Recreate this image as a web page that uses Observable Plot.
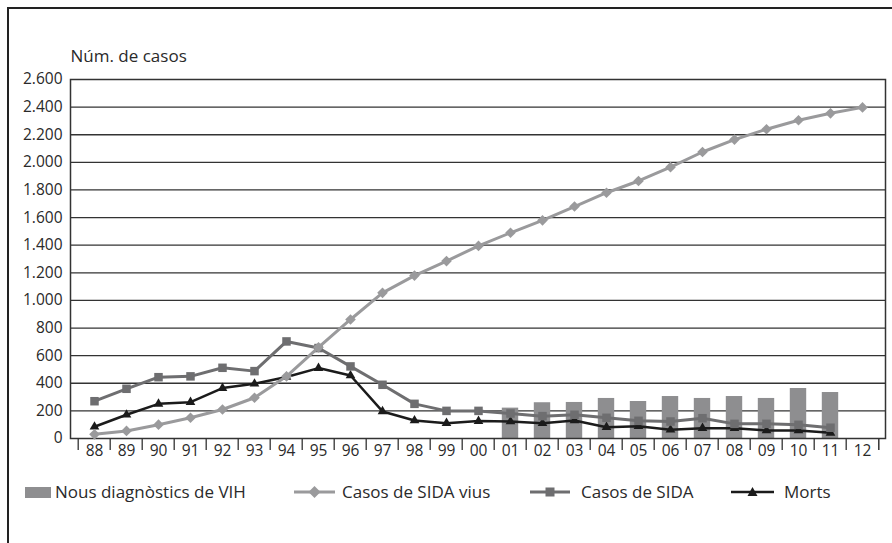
<!DOCTYPE html>
<html><head><meta charset="utf-8">
<script src="https://cdn.jsdelivr.net/npm/d3@7"></script>
<script src="https://cdn.jsdelivr.net/npm/@observablehq/plot@0.6"></script>
<style>
body{margin:0;background:#fff;font-family:"Open Sans",sans-serif;color:#2a2a2a;}
#wrap{position:relative;width:892px;height:543px;overflow:hidden;background:#fff;}
#border{position:absolute;left:7px;top:7px;width:900px;height:560px;border-top:2px solid #222;border-left:2px solid #222;}
#chart{position:absolute;left:0;top:0;}
.leg{position:absolute;top:479px;height:26px;line-height:26px;font-size:17px;white-space:nowrap;color:#2a2a2a;}
.sw{position:absolute;}
</style></head>
<body>
<div id="wrap">
<div id="border"></div>
<div id="chart"></div>
<div id="legend"></div>
</div>
<script>
const years = ["88","89","90","91","92","93","94","95","96","97","98","99","00","01","02","03","04","05","06","07","08","09","10","11","12"];
const vihYears = ["01","02","03","04","05","06","07","08","09","10","11"];
const vihValues = [220,259,261,290,268,304,290,304,290,362,333];
const viusValues = [30,55,100,150,210,295,450,660,862,1055,1180,1285,1395,1490,1580,1680,1780,1865,1965,2075,2165,2240,2305,2355,2398];
const sidaValues = [270,360,444,450,512,488,703,655,522,389,251,200,200,181,162,172,150,128,123,147,106,106,99,78];
const mortsValues = [85,172,251,263,365,396,445,510,456,196,130,111,126,123,111,130,82,89,63,75,75,58,58,41];
const yTicks = [0,200,400,600,800,1000,1200,1400,1600,1800,2000,2200,2400,2600];
const yLabel = "Núm. de casos";
const legendLabels = ["Nous diagnòstics de VIH","Casos de SIDA vius","Casos de SIDA","Morts"];

const C = {vih:"#8e8e90", vius:"#9a9a9c", sida:"#6e6e70", morts:"#1b1b1b", grid:"#333"};
const W=892,H=470,mL=70,mR=7,mT=79,mB=32;
const bw=(W-mL-mR)/years.length;
const fmt = d => d3.format(",")(d).replace(/,/g,".");
const vih = vihYears.map((y,i)=>({year:y,value:vihValues[i]}));
const vius = viusValues.map((v,i)=>({year:years[i],value:v}));
const sida = sidaValues.map((v,i)=>({year:years[i],value:v}));
const morts = mortsValues.map((v,i)=>({year:years[i],value:v}));

const chart = Plot.plot({
  width:W,height:H,marginLeft:mL,marginRight:mR,marginTop:mT,marginBottom:mB,
  style:{fontFamily:"Open Sans",fontSize:"15.5px",color:"#2a2a2a",background:"transparent",overflow:"visible"},
  x:{type:"band",domain:years,padding:0},
  y:{domain:[0,2600]},
  marks:[
    Plot.ruleY(yTicks.slice(1,-1),{stroke:C.grid,strokeWidth:1.3}),
    Plot.barY(vih,{x:"year",y:"value",fill:C.vih,insetLeft:(bw-17)/2,insetRight:(bw-17)/2}),
    Plot.frame({stroke:C.grid,strokeWidth:1.5}),
    Plot.ruleX(years,{x:d=>d,y1:0,y2:0,dx:-bw/2,insetBottom:-12,stroke:C.grid,strokeWidth:1.3}),
    Plot.ruleX(years.slice(-1),{x:d=>d,y1:0,y2:0,dx:bw/2,insetBottom:-12,stroke:C.grid,strokeWidth:1.5}),
    Plot.axisY({ticks:yTicks,tickSize:0,tickPadding:8,tickFormat:fmt,label:null}),
    Plot.axisX({tickSize:0,tickPadding:6,label:null}),
    Plot.text([yLabel],{frameAnchor:"top-left",text:d=>d,textAnchor:"start",dy:-30,fontSize:17}),
    Plot.lineY(morts,{x:"year",y:"value",stroke:C.morts,strokeWidth:2.5}),
    Plot.dot(morts,{x:"year",y:"value",symbol:"triangle",r:3.6,fill:C.morts}),
    Plot.lineY(sida,{x:"year",y:"value",stroke:C.sida,strokeWidth:3}),
    Plot.dot(sida,{x:"year",y:"value",symbol:"square",r:4.8,fill:C.sida}),
    Plot.lineY(vius,{x:"year",y:"value",stroke:C.vius,strokeWidth:3}),
    Plot.dot(vius,{x:"year",y:"value",symbol:"diamond2",r:4.8,fill:C.vius})
  ]
});
document.getElementById("chart").appendChild(chart);

// legend
const leg = document.getElementById("legend");
const items = [
  {sx:25, tx:55, kind:"rect", color:C.vih},
  {sx:294, tx:342, kind:"diamond", color:C.vius, w:41},
  {sx:530, tx:581, kind:"square", color:C.sida, w:40},
  {sx:731, tx:784, kind:"triangle", color:C.morts, w:43}
];
items.forEach((it,i)=>{
  const ns="http://www.w3.org/2000/svg";
  const svg=document.createElementNS(ns,"svg");
  svg.setAttribute("class","sw");
  if(it.kind==="rect"){
    svg.setAttribute("width",26);svg.setAttribute("height",11);
    svg.style.left=it.sx+"px";svg.style.top="487px";
    svg.innerHTML=`<rect width="26" height="11" fill="${it.color}"/>`;
  } else {
    const w=it.w, h=14, c=w/2;
    svg.setAttribute("width",w);svg.setAttribute("height",h);
    svg.style.left=it.sx+"px";svg.style.top=(492-h/2)+"px";
    let m="";
    if(it.kind==="diamond") m=`<path d="M${c-6},7L${c},1L${c+6},7L${c},13Z" fill="${it.color}"/>`;
    if(it.kind==="square") m=`<rect x="${c-4.5}" y="2.5" width="9" height="9" fill="${it.color}"/>`;
    if(it.kind==="triangle") m=`<path d="M${c-5},11L${c},2L${c+5},11Z" fill="${it.color}"/>`;
    svg.innerHTML=`<line x1="0" x2="${w}" y1="7" y2="7" stroke="${it.color}" stroke-width="${it.kind==='triangle'?2.5:3}"/>`+m;
  }
  leg.appendChild(svg);
  const sp=document.createElement("div");
  sp.className="leg";sp.style.left=it.tx+"px";sp.textContent=legendLabels[i];
  leg.appendChild(sp);
});
</script>
</body></html>
